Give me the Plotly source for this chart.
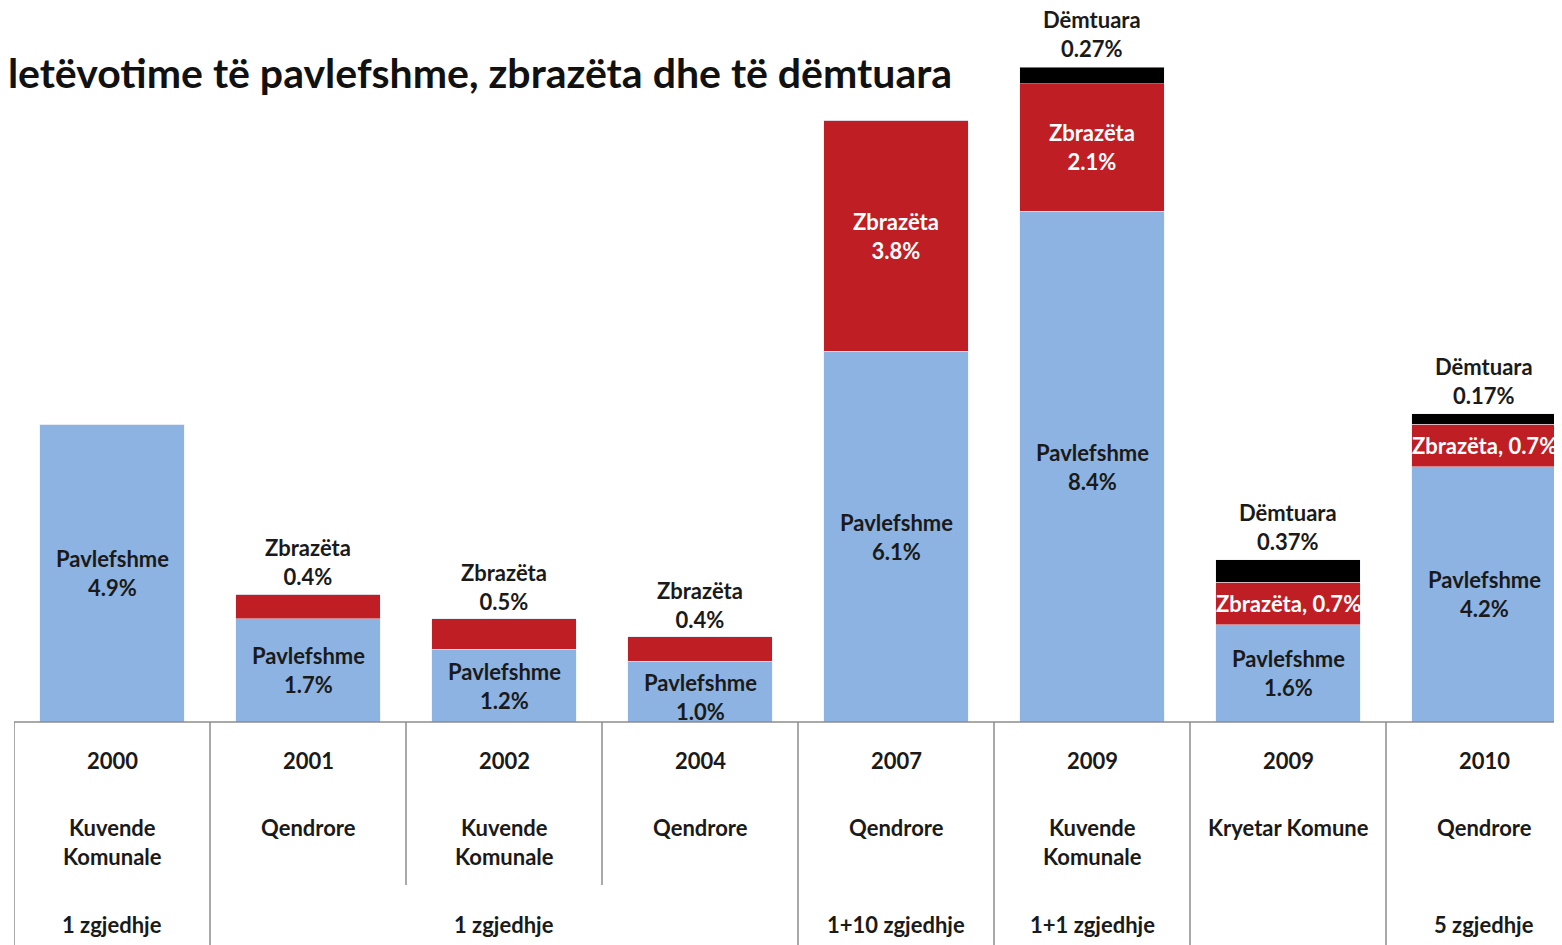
import plotly.graph_objects as go

# ---- data ----
years = ["2000", "2001", "2002", "2004", "2007", "2009", "2009", "2010"]
types = ["Kuvende<br>Komunale", "Qendrore", "Kuvende<br>Komunale", "Qendrore",
         "Qendrore", "Kuvende<br>Komunale", "Kryetar Komune", "Qendrore"]
elections = ["1 zgjedhje", "", "1 zgjedhje", "", "1+10 zgjedhje", "1+1 zgjedhje", "", "5 zgjedhje"]
pavlefshme = [4.9, 1.7, 1.2, 1.0, 6.1, 8.4, 1.6, 4.2]
zbrazeta = [0.0, 0.4, 0.5, 0.4, 3.8, 2.1, 0.7, 0.7]
demtuara = [0.0, 0.0, 0.0, 0.0, 0.0, 0.27, 0.37, 0.17]
title_text = "Fletëvotime të pavlefshme, zbrazëta dhe të dëmtuara"

W, H = 1562, 945
OFF = 8                 # page body margin offset in the browser
BASE = 722              # baseline y on screen
ML = 14 - OFF
MR = OFF
PH = BASE - OFF         # plot height in px
MB = H - PH
PX_PER = 60.8
YMAX = PH / PX_PER
XMIN, XMAX = -0.5, -0.5 + (W - ML - MR) / 196.0

BLUE = "#8DB3E2"
RED = "#BF1E24"
BLACK = "#000000"
FONT = "Lato, Calibri, 'Open Sans', sans-serif"

xs = list(range(len(years)))

fig = go.Figure()
fig.add_bar(x=xs, y=pavlefshme, marker_color=BLUE, width=0.735, name="Pavlefshme")
fig.add_bar(x=xs, y=zbrazeta, marker_color=RED, width=0.735, name="Zbrazëta")
fig.add_bar(x=xs, y=demtuara, marker_color=BLACK, width=0.735, name="Dëmtuara")

def s2paper(sy):
    """screen y (px) -> paper y"""
    return (BASE - sy) / PH

ann = []
FS = 22
lbl_font = dict(family=FONT, size=FS, color="#1a1a1a")
wht_font = dict(family=FONT, size=FS, color="#ffffff")
for i in xs:
    b, r, d = pavlefshme[i], zbrazeta[i], demtuara[i]
    ann.append(dict(x=i, y=b / 2, xref="x", yref="y", text=f"<b>Pavlefshme<br>{b:.1f}%</b>",
                    showarrow=False, font=lbl_font, yanchor="middle",
                    yshift=-5 if b < 1.1 else 0))
    if r > 0:
        if r >= 2:
            ann.append(dict(x=i, y=b + r / 2, xref="x", yref="y", text=f"<b>Zbrazëta<br>{r:.1f}%</b>",
                            showarrow=False, font=wht_font, yanchor="middle"))
        elif d > 0:
            ann.append(dict(x=i, y=b + r / 2, xref="x", yref="y", text=f"<b>Zbrazëta, {r:.1f}%</b>",
                            showarrow=False, font=wht_font, yanchor="middle"))
        else:
            ann.append(dict(x=i, y=b + r, xref="x", yref="y", text=f"<b>Zbrazëta<br>{r:.1f}%</b>",
                            showarrow=False, font=lbl_font, yanchor="bottom", yshift=2))
    if d > 0:
        ann.append(dict(x=i, y=b + r + d, xref="x", yref="y", text=f"<b>Dëmtuara<br>{d:.2f}%</b>",
                        showarrow=False, font=lbl_font, yanchor="bottom", yshift=3))

# category table text
cat_font = dict(family=FONT, size=FS, color="#1a1a1a")
for i in xs:
    ann.append(dict(x=i, y=s2paper(760), xref="x", yref="paper", text=f"<b>{years[i]}</b>",
                    showarrow=False, font=cat_font, yanchor="middle"))
    ann.append(dict(x=i, y=s2paper(812), xref="x", yref="paper", text=f"<b>{types[i]}</b>",
                    showarrow=False, font=cat_font, yanchor="top"))
    if elections[i]:
        ann.append(dict(x=i, y=s2paper(925), xref="x", yref="paper", text=f"<b>{elections[i]}</b>",
                        showarrow=False, font=cat_font, yanchor="middle"))

# title (left part runs off the page, as in the original crop)
ann.append(dict(x=(954 - OFF - ML) / (W - ML - MR), y=s2paper(72), xref="paper", yref="paper",
                text=f"<b>{title_text}</b>", showarrow=False, xanchor="right", yanchor="middle",
                font=dict(family=FONT, size=41, color="#111111")))

shapes = []
line = dict(color="#8c8c8c", width=1.5)
shapes.append(dict(type="line", xref="paper", yref="paper", x0=0, x1=1.01, y0=0, y1=0, line=line))
full_sep = [-0.5, 0.5, 3.5, 4.5, 5.5, 6.5]
short_sep = [1.5, 2.5]
for s in full_sep:
    shapes.append(dict(type="line", xref="x", yref="paper", x0=s, x1=s, y0=0, y1=s2paper(H + 10), line=line))
for s in short_sep:
    shapes.append(dict(type="line", xref="x", yref="paper", x0=s, x1=s, y0=0, y1=s2paper(885), line=line))

fig.update_layout(
    barmode="stack",
    width=W, height=H,
    margin=dict(l=ML, r=MR, t=0, b=MB, pad=0),
    paper_bgcolor="white", plot_bgcolor="white",
    showlegend=False,
    xaxis=dict(range=[XMIN, XMAX], visible=False, fixedrange=True),
    yaxis=dict(range=[0, YMAX], visible=False, fixedrange=True),
    annotations=ann,
    shapes=shapes,
    font=dict(family=FONT),
)

fig.write_html("out.html")
